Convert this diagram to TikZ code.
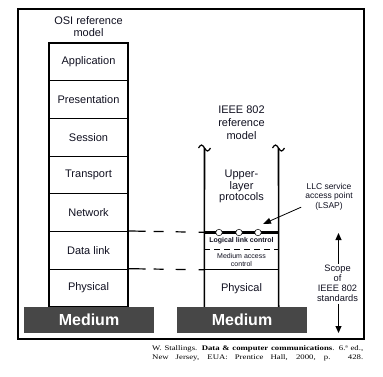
\documentclass[tikz,border=0pt]{standalone}
\usepackage{fontspec}
\setmainfont{Liberation Sans}
\newfontfamily\citefont{Liberation Serif}
\usetikzlibrary{arrows.meta}
\definecolor{medgray}{HTML}{474747}
\definecolor{ink}{HTML}{101020}
\begin{document}
\begin{tikzpicture}[x=1pt,y=-1pt,
  layer/.style={draw, line width=1.2pt, minimum width=79pt, minimum height=37.714pt, inner sep=0pt, font=\fontsize{11}{13}\selectfont, text=ink},
  medium/.style={fill=medgray, minimum width=130pt, minimum height=26pt, inner sep=0pt, text=white, font=\fontsize{16}{18}\selectfont\bfseries},
  lbl/.style={align=center, inner sep=0pt, text=ink},
  region/.style={minimum width=74pt, inner sep=0pt, text=ink, align=center},
  sap/.style={circle, draw, fill=white, line width=0.5pt, minimum size=6.5pt, inner sep=0pt},
  tilde/.style={line width=1.2pt},
  conn/.style={line width=1.2pt, dash pattern=on 17pt off 8pt on 10pt off 12pt on 10pt off 13pt on 7pt},
  citeline/.style={anchor=base west, inner sep=0pt, font=\citefont\fontsize{7}{9}\selectfont}
]
\useasboundingbox (0,0) rectangle (383,376);
% frame
\draw[line width=1.2pt] (18,9) rectangle (364,339);

% OSI stack
\node[lbl, font=\fontsize{11}{11.5}\selectfont] (osititle) at (88.5,26.5) {OSI reference\\model};
\node[layer] (app) at (88.5,61.857) {Application};
\node[layer] (pres) at (88.5,99.571) {Presentation};
\node[layer] (sess) at (88.5,137.286) {Session};
\node[layer] (trans) at (88.5,175.0) {Transport};
\node[layer] (net) at (88.5,212.714) {Network};
\node[layer] (dl) at (88.5,250.429) {Data link};
\node[layer] (phy) at (88.5,288.143) {Physical};

% IEEE 802 model
\node[lbl, font=\fontsize{11}{13}\selectfont] (ieeetitle) at (241.5,123) {IEEE 802\\reference\\model};
\node[lbl, font=\fontsize{11}{11.7}\selectfont] (upper) at (241.5,186.5) {Upper-\\layer\\protocols};
\node[region, minimum height=17pt, font=\fontsize{7}{8}\selectfont\bfseries] (llc) at (241.5,241) {Logical link control};
\node[region, minimum height=20.5pt, font=\fontsize{7}{8}\selectfont] (mac) at (241.5,259.75) {Medium access\\control};
\node[region, minimum height=37.5pt, font=\fontsize{11}{13}\selectfont] (iphy) at (241.5,288.75) {Physical};

\coordinate (topL) at (204.5,148);
\coordinate (topR) at (278.5,148);
\draw[line width=1.6pt] (topL) -- (iphy.south west);
\draw[line width=1.6pt] (topR) -- (iphy.south east);
\draw[tilde] (topL) ++(-6,0) sin ++(3,-3) cos ++(3,3) sin ++(3,3) cos ++(3,-3);
\draw[tilde] (topR) ++(-6,0) sin ++(3,-3) cos ++(3,3) sin ++(3,3) cos ++(3,-3);

\draw[line width=3pt] (llc.north west) -- (llc.north east);
\draw[line width=1pt, dash pattern=on 6pt off 4pt] (mac.north west) -- (mac.north east);
\draw[line width=1pt] (iphy.north west) -- (iphy.north east);
\node[sap] (sap1) at (219,232.5) {};
\node[sap] (sap2) at (239,232.5) {};
\node[sap] (sap3) at (258,232.5) {};

% dashed connectors
\draw[conn] (dl.north east) -- (llc.north west);
\draw[conn] (phy.north east) -- (iphy.north west);

% media
\node[medium] (med1) at (89,320) {Medium};
\node[medium] (med2) at (242,320) {Medium};

% LSAP
\node[lbl, font=\fontsize{8.5}{9.5}\selectfont] (lsap) at (329,196.5) {LLC service\\access point\\(LSAP)};
\coordinate (lsaptip) at (263,224);
\draw[line width=0.8pt, -{Triangle[length=8pt,width=6pt]}] (lsap.south west) ++(-4,-3) -- (lsaptip);

% scope
\node[lbl, font=\fontsize{9.3}{10}\selectfont] (scope) at (337.5,283) {Scope\\of\\IEEE 802\\standards};
\coordinate (scopetop) at (338.5,233);
\coordinate (scopebot) at (338.5,333);
\draw[line width=1pt, -{Triangle[length=7pt,width=6pt]}] (scope.north -| scopetop) ++(0,-1) -- (scopetop);
\draw[line width=1pt, -{Triangle[length=7pt,width=6pt]}] (scope.south -| scopebot) ++(0,2) -- (scopebot);

% citation
\node[citeline] (cite1) at (152,350) {\scalebox{1.25}[1]{\makebox[168.8pt][s]{W. Stallings. \textbf{Data \& computer communications}. 6.ª ed.,}}};
\node[citeline] (cite2) at (152,359.5) {\scalebox{1.25}[1]{\makebox[168.8pt][s]{New Jersey, EUA: Prentice Hall, 2000, p. 428.}}};
\end{tikzpicture}
\end{document}
